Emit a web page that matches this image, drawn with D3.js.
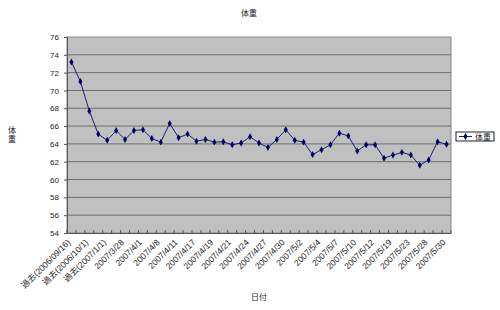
<!DOCTYPE html>
<html>
<head>
<meta charset="utf-8">
<script src="https://cdn.jsdelivr.net/npm/d3@7"></script>
<style>
    body { margin: 0; background: #fff; }
    text { font-family: "Liberation Sans", "Noto Sans CJK JP", sans-serif; fill: #222; }
</style>
</head>
<body>
<svg id="chart"></svg>
<script>
// weight readings, one per entry
let weights = [73.2, 71.0, 67.7, 65.1, 64.4, 65.5, 64.5, 65.5, 65.6, 64.6,
    64.2, 66.3, 64.7, 65.1, 64.3, 64.5, 64.2, 64.25, 63.9, 64.1,
    64.8, 64.1, 63.6, 64.5, 65.6, 64.4, 64.2, 62.8, 63.35, 63.9,
    65.2, 64.9, 63.2, 63.9, 63.9, 62.4, 62.75, 63.05, 62.75, 61.6,
    62.2, 64.25, 63.95];

// only every other category gets a label (like the original)
let tickLabels = ["過去(2006/09/16)", "過去(2006/10/1)", "過去(2007/1/1)", "2007/3/28",
    "2007/4/1", "2007/4/8", "2007/4/11", "2007/4/17", "2007/4/19", "2007/4/21",
    "2007/4/24", "2007/4/27", "2007/4/30", "2007/5/2", "2007/5/4", "2007/5/7",
    "2007/5/10", "2007/5/12", "2007/5/19", "2007/5/23", "2007/5/28", "2007/5/30"];

let yTicks = [54, 56, 58, 60, 62, 64, 66, 68, 70, 72, 74, 76];

let seriesName = "体重";

let svg = d3.select("#chart").attr("width", 500).attr("height", 310);

// plot area box
let plotL = 67, plotR = 451, plotT = 37, plotB = 233;

let x = d3.scalePoint()
    .domain(d3.range(weights.length))
    .range([plotL, plotR])
    .padding(0.5);

let y = d3.scaleLinear().domain([54, 76]).range([plotB, plotT]);

svg.append("rect")
    .attr("x", plotL).attr("y", plotT)
    .attr("width", plotR - plotL).attr("height", plotB - plotT)
    .attr("fill", "#c0c0c0")
    .attr("stroke", "#8a8a8a");

// gridlines
svg.append("g").selectAll("line")
    .data(yTicks.slice(1, -1))
    .enter().append("line")
    .attr("x1", plotL).attr("x2", plotR)
    .attr("y1", function (d) { return y(d); })
    .attr("y2", function (d) { return y(d); })
    .attr("stroke", "#6e6e6e");

// y axis
let yAxis = svg.append("g")
    .attr("transform", "translate(" + plotL + ",0)")
    .call(d3.axisLeft(y).tickValues(yTicks).tickSize(3).tickPadding(5));
yAxis.select(".domain").attr("stroke", "#555");
yAxis.selectAll("line").attr("stroke", "#555");
yAxis.selectAll("text").style("font-size", "8px").attr("fill", "#333");

// x axis, labels on even categories
let xAxis = svg.append("g")
    .attr("transform", "translate(0," + plotB + ")")
    .call(d3.axisBottom(x)
        .tickValues(d3.range(0, weights.length, 2))
        .tickFormat(function (d) { return tickLabels[d / 2]; })
        .tickSize(0));
xAxis.select(".domain").attr("stroke", "#555");
xAxis.selectAll("text")
    .style("font-size", "8.5px")
    .attr("fill", "#333")
    .attr("text-anchor", "end")
    .attr("dy", null)
    .attr("y", 0)
    .attr("transform", "translate(-1,10) rotate(-45)");

// little tick marks at the category boundaries
let step = x.step();
svg.append("g").selectAll("line")
    .data(d3.range(weights.length + 1))
    .enter().append("line")
    .attr("x1", function (d) { return plotL + d * step; })
    .attr("x2", function (d) { return plotL + d * step; })
    .attr("y1", plotB - 3).attr("y2", plotB)
    .attr("stroke", "#555");

// series line
let line = d3.line()
    .x(function (d, i) { return x(i); })
    .y(function (d) { return y(d); });

svg.append("path")
    .datum(weights)
    .attr("d", line)
    .attr("fill", "none")
    .attr("stroke", "#1c1c78")
    .attr("stroke-width", 1);

let diamond = d3.symbol().type(d3.symbolDiamond).size(14);

svg.append("g").selectAll("path")
    .data(weights)
    .enter().append("path")
    .attr("d", diamond)
    .attr("transform", function (d, i) { return "translate(" + x(i) + "," + y(d) + ")"; })
    .attr("fill", "#000066");

// titles
svg.append("text")
    .attr("x", 249).attr("y", 16)
    .attr("text-anchor", "middle")
    .style("font-size", "8px")
    .text(seriesName);

svg.append("text")
    .attr("x", 259).attr("y", 300)
    .attr("text-anchor", "middle")
    .style("font-size", "8px")
    .text("日付");

// y title, stacked vertically
let yTitle = svg.append("text")
    .attr("x", 12).attr("y", 133)
    .attr("text-anchor", "middle")
    .style("font-size", "8px");
yTitle.append("tspan").attr("x", 12).text("体");
yTitle.append("tspan").attr("x", 12).attr("dy", 9).text("重");

// legend
let legend = svg.append("g").attr("transform", "translate(456,132)");
legend.append("rect")
    .attr("width", 38).attr("height", 9)
    .attr("fill", "#fff")
    .attr("stroke", "#222");
legend.append("line")
    .attr("x1", 3).attr("x2", 16).attr("y1", 4.5).attr("y2", 4.5)
    .attr("stroke", "#1c1c78");
legend.append("path")
    .attr("d", diamond)
    .attr("transform", "translate(9.5,4.5)")
    .attr("fill", "#000066");
legend.append("text")
    .attr("x", 19).attr("y", 7.5)
    .style("font-size", "8px")
    .text(seriesName);
</script>
</body>
</html>
